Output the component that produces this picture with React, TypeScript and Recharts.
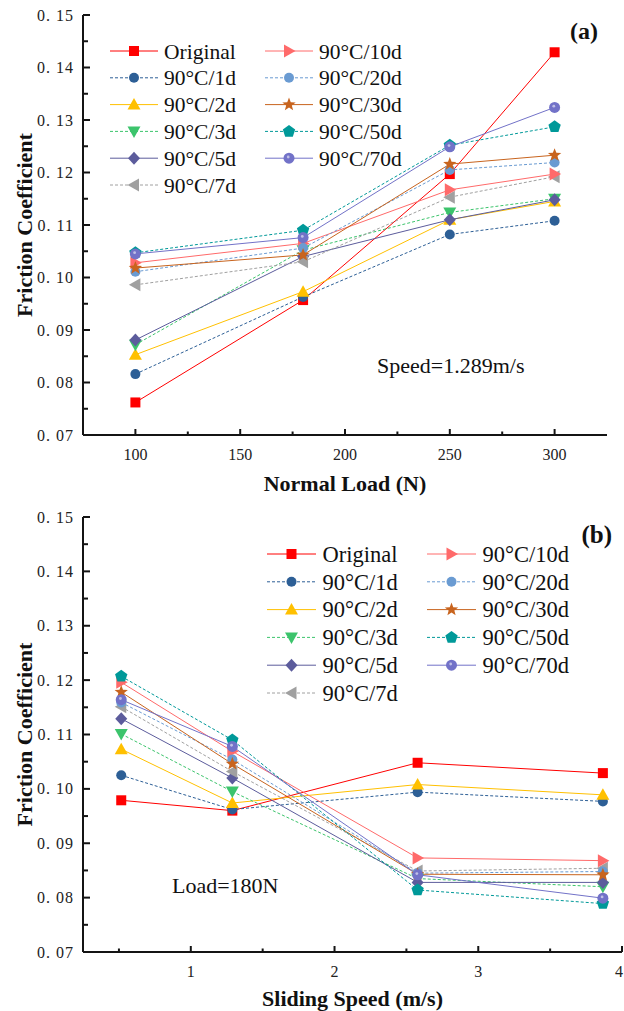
import React from 'react';
import { LineChart, Line, XAxis, YAxis, Legend } from 'recharts';

// ---------- data ----------
const loads = [100, 180, 250, 300];
const speeds = [0.516, 1.289, 2.578, 3.867];

const seriesNames = ['Original', '90°C/1d', '90°C/2d', '90°C/3d', '90°C/5d', '90°C/7d', '90°C/10d', '90°C/20d', '90°C/30d', '90°C/50d', '90°C/70d'];

// (a) friction vs normal load, speed 1.289 m/s
const loadOriginal = [0.0762, 0.0957, 0.1197, 0.1429];
const load1d = [0.0816, 0.0963, 0.1082, 0.1108];
const load2d = [0.0853, 0.0973, 0.1110, 0.1145];
const load3d = [0.0872, 0.1052, 0.1124, 0.1150];
const load5d = [0.0881, 0.1040, 0.1110, 0.1148];
const load7d = [0.0986, 0.1030, 0.1153, 0.1192];
const load10d = [0.1028, 0.1065, 0.1167, 0.1197];
const load20d = [0.1011, 0.1056, 0.1205, 0.1219];
const load30d = [0.1018, 0.1043, 0.1216, 0.1233];
const load50d = [0.1047, 0.1090, 0.1252, 0.1287];
const load70d = [0.1045, 0.1076, 0.1249, 0.1324];

// (b) friction vs sliding speed, load 180 N
const speedOriginal = [0.0979, 0.0960, 0.1048, 0.1029];
const speed1d = [0.1025, 0.0962, 0.0994, 0.0977];
const speed2d = [0.1073, 0.0974, 0.1008, 0.0989];
const speed3d = [0.1101, 0.0995, 0.0835, 0.0820];
const speed5d = [0.1129, 0.1020, 0.0828, 0.0828];
const speed7d = [0.1151, 0.1032, 0.0849, 0.0854];
const speed10d = [0.1196, 0.1069, 0.0873, 0.0868];
const speed20d = [0.1159, 0.1054, 0.0845, 0.0848];
const speed30d = [0.1178, 0.1046, 0.0843, 0.0842];
const speed50d = [0.1207, 0.1090, 0.0814, 0.0789];
const speed70d = [0.1164, 0.1078, 0.0842, 0.0799];

const loadSeries = [loadOriginal, load1d, load2d, load3d, load5d, load7d, load10d, load20d, load30d, load50d, load70d];
const speedSeries = [speedOriginal, speed1d, speed2d, speed3d, speed5d, speed7d, speed10d, speed20d, speed30d, speed50d, speed70d];

const loadMajorTicks = [100, 150, 200, 250, 300];
const loadMinorTicks = [125, 175, 225, 275];
const speedMajorTicks = [1, 2, 3, 4];
const speedMinorTicks = [0.5, 1.5, 2.5, 3.5];
const frictionMajorTicks = [0.07, 0.08, 0.09, 0.10, 0.11, 0.12, 0.13, 0.14, 0.15];
const frictionMinorTicks = [0.075, 0.085, 0.095, 0.105, 0.115, 0.125, 0.135, 0.145];

// ---------- styles ----------
const seriesColors = ['#FF0000', '#2D5F96', '#FFC000', '#3CC46C', '#5C5C9C', '#A0A0A0', '#FF6A6A', '#6A9BD2', '#C8641E', '#009999', '#7272C8'];
const seriesShapes = ['square', 'circle', 'triUp', 'triDown', 'diamond', 'triLeft', 'triRight', 'circle', 'star', 'pentagon', 'sphere'];
const seriesDashed = [false, true, false, true, false, true, false, true, false, true, false];

const SERIF = '"Liberation Serif", "Times New Roman", serif';
const AXIS_COLOR = '#141414';

const buildRows = (xs: number[], series: number[][]) =>
  xs.map((x, i) => {
    const row: Record<string, number> = { x };
    series.forEach((s, k) => {
      row[`s${k}`] = s[i];
    });
    return row;
  });

const loadData = buildRows(loads, loadSeries);
const speedData = buildRows(speeds, speedSeries);

const sortedTicks = (a: number[], b: number[]) => [...a, ...b].sort((p, q) => p - q);

const isMajor = (v: number, majors: number[]) => majors.some((m) => Math.abs(m - v) < 1e-9);

function regularPolygon(cx: number, cy: number, r: number, n: number, rot: number) {
  const pts: string[] = [];
  for (let i = 0; i < n; i++) {
    const a = rot + (i * 2 * Math.PI) / n;
    pts.push(`${cx + r * Math.cos(a)},${cy + r * Math.sin(a)}`);
  }
  return pts.join(' ');
}

function starPoints(cx: number, cy: number, ro: number, ri: number) {
  const pts: string[] = [];
  for (let i = 0; i < 10; i++) {
    const r = i % 2 === 0 ? ro : ri;
    const a = -Math.PI / 2 + (i * Math.PI) / 5;
    pts.push(`${cx + r * Math.cos(a)},${cy + r * Math.sin(a)}`);
  }
  return pts.join(' ');
}

function Marker({ shape, cx, cy, color }: { shape: string; cx: number; cy: number; color: string }) {
  if (cx == null || cy == null || isNaN(cx) || isNaN(cy)) return null;
  switch (shape) {
    case 'square':
      return <rect x={cx - 5} y={cy - 5} width={10} height={10} fill={color} />;
    case 'circle':
      return <circle cx={cx} cy={cy} r={5} fill={color} />;
    case 'triUp':
      return <polygon points={`${cx},${cy - 6.5} ${cx + 6.5},${cy + 5} ${cx - 6.5},${cy + 5}`} fill={color} />;
    case 'triDown':
      return <polygon points={`${cx},${cy + 6.5} ${cx + 6.5},${cy - 5} ${cx - 6.5},${cy - 5}`} fill={color} />;
    case 'triLeft':
      return <polygon points={`${cx - 6.5},${cy} ${cx + 5},${cy - 6.5} ${cx + 5},${cy + 6.5}`} fill={color} />;
    case 'triRight':
      return <polygon points={`${cx + 6.5},${cy} ${cx - 5},${cy - 6.5} ${cx - 5},${cy + 6.5}`} fill={color} />;
    case 'diamond':
      return <polygon points={`${cx},${cy - 6.5} ${cx + 6},${cy} ${cx},${cy + 6.5} ${cx - 6},${cy}`} fill={color} />;
    case 'star':
      return <polygon points={starPoints(cx, cy, 7, 3)} fill={color} />;
    case 'pentagon':
      return <polygon points={regularPolygon(cx, cy, 6.5, 5, -Math.PI / 2)} fill={color} />;
    case 'sphere':
      return (
        <g>
          <circle cx={cx} cy={cy} r={5.5} fill={color} />
          <circle cx={cx - 0.8} cy={cy - 1.2} r={1.4} fill="#ffffff" opacity={0.55} />
        </g>
      );
    default:
      return <circle cx={cx} cy={cy} r={5} fill={color} />;
  }
}

function XTick(props: any) {
  const { x, y, payload, majors, edgeRight } = props;
  const v = payload.value as number;
  const major = isMajor(v, majors);
  const atEdge = edgeRight != null && x > edgeRight - 6;
  return (
    <g>
      <line x1={x} y1={y} x2={x} y2={y - (major ? 6 : 3.5)} stroke={AXIS_COLOR} strokeWidth={2} />
      {major && (
        <text
          x={atEdge ? edgeRight : x}
          y={y + 25}
          textAnchor={atEdge ? 'end' : 'middle'}
          fontFamily={SERIF}
          fontSize={16}
          fill="#222"
        >
          {String(v)}
        </text>
      )}
    </g>
  );
}

function YTick(props: any) {
  const { x, y, payload } = props;
  const v = payload.value as number;
  const major = isMajor(v, frictionMajorTicks);
  const label = `0. ${String(Math.round(v * 100)).padStart(2, '0')}`;
  return (
    <g>
      <line x1={x} y1={y} x2={x + (major ? 7 : 5)} y2={y} stroke={AXIS_COLOR} strokeWidth={2} />
      {major && (
        <text x={x - 9} y={y} dy="0.35em" textAnchor="end" fontFamily={SERIF} fontSize={16} letterSpacing={1} fill="#222">
          {label}
        </text>
      )}
    </g>
  );
}

type LegendLayout = {
  cols: number[];
  lineLen: number;
  textGap: number;
  y0: number;
  dy: number;
  fontSize: number;
};

function LegendContent(props: any) {
  const { payload, lay } = props;
  const items = (payload || []) as any[];
  return (
    <svg width={624} height={230} style={{ overflow: 'visible' }}>
      {items.map((it, k) => {
        const idx = parseInt(String(it.dataKey).slice(1), 10);
        const col = idx < 6 ? 0 : 1;
        const row = idx < 6 ? idx : idx - 6;
        const x0 = lay.cols[col];
        const y = lay.y0 + row * lay.dy;
        const color = seriesColors[idx];
        return (
          <g key={k}>
            <line
              x1={x0}
              y1={y}
              x2={x0 + lay.lineLen}
              y2={y}
              stroke={color}
              strokeWidth={1}
              strokeDasharray={seriesDashed[idx] ? '3 2' : undefined}
            />
            <Marker shape={seriesShapes[idx]} cx={x0 + lay.lineLen / 2} cy={y} color={color} />
            <text x={x0 + lay.lineLen + lay.textGap} y={y} dy="0.35em" fontFamily={SERIF} fontSize={lay.fontSize} fill="#111">
              {seriesNames[idx]}
            </text>
          </g>
        );
      })}
    </svg>
  );
}

const legendA: LegendLayout = { cols: [110, 265], lineLen: 48, textGap: 6, y0: 51, dy: 26.8, fontSize: 21.5 };
const legendB: LegendLayout = { cols: [267, 427], lineLen: 49, textGap: 6.5, y0: 49, dy: 27.8, fontSize: 22.5 };

function renderLines() {
  return seriesNames.map((name, i) => (
    <Line
      key={name}
      type="linear"
      dataKey={`s${i}`}
      name={name}
      stroke={seriesColors[i]}
      strokeWidth={1}
      strokeDasharray={seriesDashed[i] ? '3 2' : undefined}
      dot={(p: any) => <Marker key={`m${i}-${p.index}`} shape={seriesShapes[i]} cx={p.cx} cy={p.cy} color={seriesColors[i]} />}
      activeDot={false}
      isAnimationActive={false}
      legendType="line"
    />
  ));
}

export default function App() {
  const axisLine = { stroke: AXIS_COLOR, strokeWidth: 2 };
  return (
    <div style={{ position: 'absolute', left: 0, top: 0, width: 624, height: 1011, background: '#ffffff', fontFamily: SERIF }}>
      {/* Chart (a) */}
      <div style={{ position: 'absolute', left: 0, top: 0, width: 624, height: 505 }}>
        <LineChart width={624} height={505} data={loadData} margin={{ top: 15, right: 17, left: 0, bottom: 0 }}>
          <XAxis
            dataKey="x"
            type="number"
            domain={[75, 325]}
            ticks={sortedTicks(loadMajorTicks, loadMinorTicks)}
            interval={0}
            height={70}
            tickSize={0}
            tickMargin={0}
            tickLine={false}
            axisLine={axisLine}
            tick={(p: any) => <XTick {...p} majors={loadMajorTicks} />}
          />
          <XAxis xAxisId="top" orientation="top" type="number" domain={[75, 325]} height={0} tick={false} tickLine={false} axisLine={axisLine} />
          <YAxis
            type="number"
            domain={[0.07, 0.15]}
            ticks={sortedTicks(frictionMajorTicks, frictionMinorTicks)}
            interval={0}
            width={83}
            tickSize={0}
            tickMargin={0}
            tickLine={false}
            axisLine={axisLine}
            tick={(p: any) => <YTick {...p} />}
          />
          <YAxis yAxisId="right" orientation="right" type="number" domain={[0.07, 0.15]} width={0} tick={false} tickLine={false} axisLine={axisLine} />
          {renderLines()}
          <Legend
            layout="horizontal"
            verticalAlign="middle"
            align="center"
            wrapperStyle={{ left: 0, top: 0, width: 624, height: 230, pointerEvents: 'none' }}
            content={(p: any) => <LegendContent {...p} lay={legendA} />}
          />
        </LineChart>
        <svg width={624} height={505} style={{ position: 'absolute', left: 0, top: 0, pointerEvents: 'none' }}>
          <text x={598} y={39} textAnchor="end" fontFamily={SERIF} fontWeight="bold" fontSize={24} fill="#111">(a)</text>
          <text x={377} y={373} fontFamily={SERIF} fontSize={22} fill="#111">Speed=1.289m/s</text>
          <text x={345} y={491} textAnchor="middle" fontFamily={SERIF} fontWeight="bold" fontSize={22} fill="#111">Normal Load (N)</text>
          <text transform="translate(32,225) rotate(-90)" textAnchor="middle" fontFamily={SERIF} fontWeight="bold" fontSize={22} fill="#111">Friction Coefficient</text>
        </svg>
      </div>

      {/* Chart (b) */}
      <div style={{ position: 'absolute', left: 0, top: 505, width: 624, height: 506 }}>
        <LineChart width={624} height={506} data={speedData} margin={{ top: 12, right: 2, left: 0, bottom: 0 }}>
          <XAxis
            dataKey="x"
            type="number"
            domain={[0.25, 4]}
            ticks={sortedTicks(speedMajorTicks, speedMinorTicks)}
            interval={0}
            height={59}
            tickSize={0}
            tickMargin={0}
            tickLine={false}
            axisLine={axisLine}
            tick={(p: any) => <XTick {...p} majors={speedMajorTicks} edgeRight={623} />}
          />
          <XAxis xAxisId="top" orientation="top" type="number" domain={[0.25, 4]} height={0} tick={false} tickLine={false} axisLine={axisLine} />
          <YAxis
            type="number"
            domain={[0.07, 0.15]}
            ticks={sortedTicks(frictionMajorTicks, frictionMinorTicks)}
            interval={0}
            width={83}
            tickSize={0}
            tickMargin={0}
            tickLine={false}
            axisLine={axisLine}
            tick={(p: any) => <YTick {...p} />}
          />
          <YAxis yAxisId="right" orientation="right" type="number" domain={[0.07, 0.15]} width={0} tick={false} tickLine={false} axisLine={axisLine} />
          {renderLines()}
          <Legend
            layout="horizontal"
            verticalAlign="middle"
            align="center"
            wrapperStyle={{ left: 0, top: 0, width: 624, height: 230, pointerEvents: 'none' }}
            content={(p: any) => <LegendContent {...p} lay={legendB} />}
          />
        </LineChart>
        <svg width={624} height={506} style={{ position: 'absolute', left: 0, top: 0, pointerEvents: 'none' }}>
          <text x={612} y={38} textAnchor="end" fontFamily={SERIF} fontWeight="bold" fontSize={25} fill="#111">(b)</text>
          <text x={172} y={388} fontFamily={SERIF} fontSize={22} fill="#111">Load=180N</text>
          <text x={352.5} y={501} textAnchor="middle" fontFamily={SERIF} fontWeight="bold" fontSize={22} fill="#111">Sliding Speed (m/s)</text>
          <text transform="translate(32,229.5) rotate(-90)" textAnchor="middle" fontFamily={SERIF} fontWeight="bold" fontSize={22} fill="#111">Friction Coefficient</text>
        </svg>
      </div>
    </div>
  );
}
